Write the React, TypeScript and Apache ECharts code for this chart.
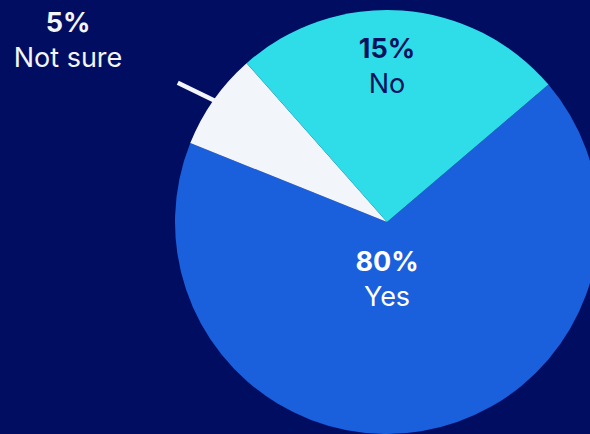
import React, { useEffect, useRef } from 'react';
import * as echarts from 'echarts';

// Slice order is clockwise from startAngle
const categories = ['Yes', 'Not sure', 'No'];
// Slice sizes as drawn in the picture (share of full circle, %)
const sliceValues = [67.3, 7.4, 25.3];
// Percentages printed on the chart
const shareLabels = ['80%', '5%', '15%'];

const sliceColors = ['#1a5fdc', '#f2f5f9', '#2edde8'];
const labelColors = ['#ffffff', '#f2f5f9', '#06115e'];
const labelCenters: number[][] = [[387, 279], [68, 40], [387, 66]];

export default function App() {
  const ref = useRef<HTMLDivElement>(null);
  useEffect(() => {
    if (!ref.current) return;
    const chart = echarts.init(ref.current, null, { renderer: 'svg' });
    const rich = (c: string) => ({
      p: { fontFamily: 'Inter', fontSize: 27, fontWeight: 700, lineHeight: 35, color: c },
      n: { fontFamily: 'Inter', fontSize: 27, fontWeight: 400, lineHeight: 35, color: c },
    });
    chart.setOption({
      animation: false,
      backgroundColor: '#010d60',
      series: [
        {
          type: 'pie',
          center: [387, 222],
          radius: 212,
          startAngle: 40.4,
          clockwise: true,
          silent: true,
          emphasis: { disabled: true },
          itemStyle: { borderWidth: 0 },
          data: categories.map((name, i) => ({
            name,
            value: sliceValues[i],
            itemStyle: { color: sliceColors[i] },
            label: {
              show: true,
              position: name === 'Not sure' ? 'outside' : 'inside',
              formatter: `{p|${shareLabels[i]}}\n{n|${name}}`,
              rich: rich(labelColors[i]),
              align: 'center',
            },
            labelLine: {
              show: name === 'Not sure',
              length: 40,
              length2: 0,
              lineStyle: { color: '#f2f5f9', width: 4.5 },
            },
          })),
          labelLayout: (params: any) => {
            const i = params.dataIndex;
            const out: any = {
              x: labelCenters[i][0],
              y: labelCenters[i][1],
              align: 'center',
              verticalAlign: 'middle',
            };
            if (params.labelLinePoints && categories[i] === 'Not sure') {
              const p0 = params.labelLinePoints[0];
              out.labelLinePoints = [[p0[0] + 1, p0[1] + 1], [p0[0] - 36, p0[1] - 17]];
            }
            return out;
          },
        },
      ],
    });
    return () => chart.dispose();
  }, []);
  return (
    <div
      ref={ref}
      style={{ position: 'fixed', left: 0, top: 0, width: 590, height: 434 }}
    />
  );
}
